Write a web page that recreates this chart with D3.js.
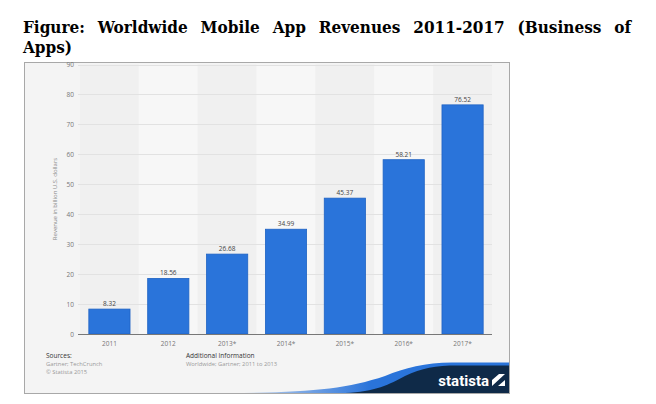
<!DOCTYPE html>
<html><head><meta charset="utf-8">
<script src="https://cdn.jsdelivr.net/npm/d3@7"></script>
<style>body{margin:0;background:#fff;}svg{display:block;}</style>
</head><body>
<svg id="c" width="656" height="404"></svg>
<script>
const categories = ["2011","2012","2013*","2014*","2015*","2016*","2017*"];
const revenues = [8.32, 18.56, 26.68, 34.99, 45.37, 58.21, 76.52];
const yTicks = [0,10,20,30,40,50,60,70,80,90];
const titleLine1 = "Figure: Worldwide Mobile App Revenues 2011-2017 (Business of";
const titleLine2 = "Apps)";

const svg = d3.select("#c");
const sans = "'Open Sans', 'DejaVu Sans', sans-serif";

// Title (justified)
const tFont = "'DejaVu Serif Condensed', 'DejaVu Serif', serif";
const tSize = 17;
const words = titleLine1.split(" ");
const tg = svg.append("g");
const nodes = words.map(w => tg.append("text").attr("y", 33).attr("font-family", tFont)
  .attr("font-weight", "bold").attr("font-stretch", "condensed").attr("font-size", tSize).attr("fill", "#000").text(w));
const widths = nodes.map(n => n.node().getComputedTextLength());
const left = 23, right = 631;
const gap = (right - left - d3.sum(widths)) / (words.length - 1);
let xx = left;
nodes.forEach((n, i) => { n.attr("x", xx); xx += widths[i] + gap; });
svg.append("text").attr("x", 23).attr("y", 53).attr("font-family", tFont)
  .attr("font-weight", "bold").attr("font-stretch", "condensed").attr("font-size", tSize).text(titleLine2);

// Chart box
svg.append("rect").attr("x", 24.5).attr("y", 62.5).attr("width", 485).attr("height", 331)
  .attr("fill", "#f4f4f4").attr("stroke", "#a8a8a8");

const x = d3.scaleBand().domain(categories).range([80, 492]).paddingInner(0.3).paddingOuter(0.15);
const y = d3.scaleLinear().domain([0, 90]).range([334, 64.5]);

// alternate column shading
svg.append("g").selectAll("rect").data(categories).join("rect")
  .attr("x", d => x(d) - x.step() * x.paddingInner() / 2)
  .attr("y", y(90)).attr("width", x.step()).attr("height", y(0) - y(90))
  .attr("fill", (d, i) => i % 2 === 0 ? "#f0f0f0" : "#f7f7f7");

// gridlines
svg.append("g").selectAll("line").data(yTicks.filter(t => t > 0)).join("line")
  .attr("x1", 78).attr("x2", 492).attr("y1", d => Math.round(y(d)) + 0.5).attr("y2", d => Math.round(y(d)) + 0.5)
  .attr("stroke", "#e2e2e2");

// y tick labels
const yAxis = d3.axisLeft(y).tickValues(yTicks).tickSize(0).tickPadding(0);
const yg = svg.append("g").attr("transform", "translate(74,0)").call(yAxis);
yg.select(".domain").remove();
yg.selectAll("text").attr("font-family", sans).attr("font-size", 6.5).attr("fill", "#777");

// y title
svg.append("text").attr("transform", "translate(57,199) rotate(-90)").attr("text-anchor", "middle")
  .attr("font-family", sans).attr("font-size", 6).attr("fill", "#888").text("Revenue in billion U.S. dollars");

// bars
svg.append("g").selectAll("rect").data(revenues).join("rect")
  .attr("x", (d, i) => x(categories[i])).attr("width", x.bandwidth())
  .attr("y", d => y(d)).attr("height", d => y(0) - y(d))
  .attr("fill", "#2a74da").attr("stroke", "#1f63c4").attr("stroke-width", 0.8);

// value labels
svg.append("g").selectAll("text").data(revenues).join("text")
  .attr("x", (d, i) => x(categories[i]) + x.bandwidth() / 2).attr("y", d => y(d) - 3)
  .attr("text-anchor", "middle").attr("font-family", sans).attr("font-size", 6.5).attr("fill", "#444")
  .text(d => d.toFixed(2));

// x axis
const xAxis = d3.axisBottom(x).tickSize(0).tickPadding(7);
const xg = svg.append("g").attr("transform", "translate(0,334)").call(xAxis);
xg.select(".domain").attr("d", "M78,0.5H492").attr("stroke", "#777");
xg.selectAll("text").attr("font-family", sans).attr("font-size", 6.5).attr("fill", "#777");

// footer texts
const foot = [
  {x: 46, y: 358, t: "Sources:", c: "#333", s: 6.5},
  {x: 46, y: 366, t: "Gartner; TechCrunch", c: "#999", s: 5.8},
  {x: 46, y: 374, t: "© Statista 2015", c: "#999", s: 5.8},
  {x: 186, y: 358, t: "Additional Information", c: "#333", s: 6.5},
  {x: 186, y: 366, t: "Worldwide; Gartner; 2011 to 2013", c: "#999", s: 5.8}
];
svg.append("g").selectAll("text").data(foot).join("text")
  .attr("x", d => d.x).attr("y", d => d.y).attr("font-family", sans)
  .attr("font-size", d => d.s).attr("fill", d => d.c).text(d => d.t);

// statista wave
const defs = svg.append("defs");
const lg = defs.append("linearGradient").attr("id", "wg").attr("x1", "0").attr("x2", "1");
lg.append("stop").attr("offset", "0").attr("stop-color", "#2a74da").attr("stop-opacity", 0);
lg.append("stop").attr("offset", "0.55").attr("stop-color", "#2a74da").attr("stop-opacity", 1);
svg.append("path").attr("d", "M200,393 C300,393 340,391 385,376 C405,368 425,362.5 452,362.5 L509,362.5 L509,393 Z")
  .attr("fill", "url(#wg)");
svg.append("path").attr("d", "M345,393 C375,392 390,384 405,376 C422,368 435,365.5 458,365.5 L509,365.5 L509,393 Z")
  .attr("fill", "#0f2a48");
svg.append("text").attr("x", 489).attr("y", 386).attr("text-anchor", "end")
  .attr("font-family", "'Roboto', 'DejaVu Sans', sans-serif").attr("font-weight", "bold")
  .attr("font-size", 15).attr("fill", "#fff").text("statista");
svg.append("rect").attr("x", 492).attr("y", 374).attr("width", 13).attr("height", 12).attr("fill", "#fff");
svg.append("path").attr("d", "M492,386 L505,374 L505,380 L498,386 Z M492,374 L499,374 L492,380 Z").attr("fill", "#0f2a48");
</script>
</body></html>
